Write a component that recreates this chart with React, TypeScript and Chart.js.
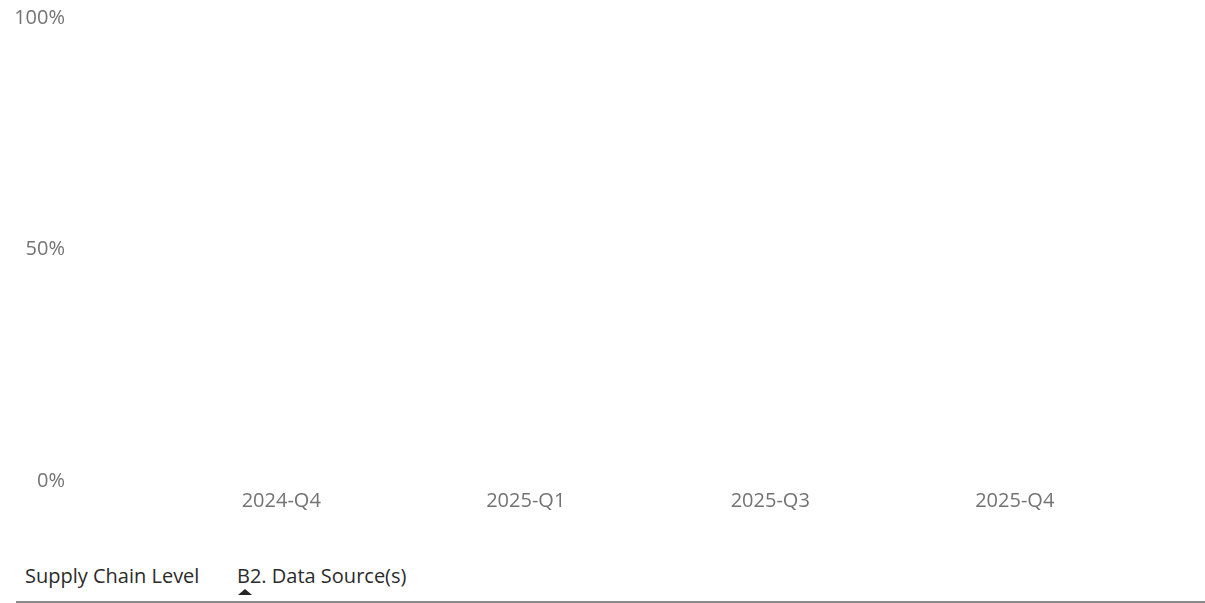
import React, { useEffect, useRef } from "react";
import { Chart, registerables } from "chart.js";

Chart.register(...registerables);

const categories = ["2024-Q4", "2025-Q1", "2025-Q3", "2025-Q4"];
const seriesValues: (number | null)[] = [null, null, null, null];
const yTickValues = [0, 0.5, 1];
const yTickLabels = ["0%", "50%", "100%"];
const footerLabels = ["Supply Chain Level", "B2. Data Source(s)"];

const FONT = "'Open Sans', 'Noto Sans', sans-serif";
const FONT_SIZE = 20;
const CANVAS_H = 530;
const PLOT_LEFT = 159;
const PLOT_BOTTOM = 481;

export default function App() {
  const ref = useRef<HTMLCanvasElement | null>(null);

  useEffect(() => {
    if (!ref.current) return;
    const chart = new Chart(ref.current, {
      type: "bar",
      data: {
        labels: categories,
        datasets: [
          {
            label: "B2. Data Source(s)",
            data: seriesValues,
            backgroundColor: "#118DFF",
          },
        ],
      },
      options: {
        responsive: false,
        animation: false,
        maintainAspectRatio: false,
        layout: { padding: { top: 18, right: 68, left: 0, bottom: 0 } },
        plugins: {
          legend: { display: false },
          tooltip: { enabled: false },
          title: { display: false },
        },
        scales: {
          x: {
            offset: true,
            grid: { display: false, drawTicks: false },
            border: { display: false },
            ticks: {
              color: "#737373",
              font: { family: FONT, size: FONT_SIZE },
              padding: 8,
              maxRotation: 0,
              autoSkip: false,
            },
            afterFit: (scale: any) => {
              scale.height = CANVAS_H - PLOT_BOTTOM;
              scale.paddingLeft = 0;
              scale.paddingRight = 0;
            },
          },
          y: {
            min: 0,
            max: 1,
            grid: { display: false, drawTicks: false },
            border: { display: false },
            afterBuildTicks: (scale: any) => {
              scale.ticks = yTickValues.map((v) => ({ value: v }));
            },
            ticks: {
              color: "#737373",
              font: { family: FONT, size: FONT_SIZE },
              padding: 94,
              callback: (v: any) => {
                const i = yTickValues.indexOf(Number(v));
                return i >= 0 ? yTickLabels[i] : "";
              },
            },
            afterFit: (scale: any) => {
              scale.width = PLOT_LEFT;
              scale.paddingTop = 0;
              scale.paddingBottom = 0;
            },
          },
        },
      },
    });
    return () => chart.destroy();
  }, []);

  const footerStyle: React.CSSProperties = {
    position: "absolute",
    top: 563,
    fontFamily: FONT,
    fontSize: FONT_SIZE,
    lineHeight: "26px",
    color: "#2b2b2b",
    whiteSpace: "nowrap",
  };

  return (
    <div style={{ position: "absolute", left: 0, top: 0, width: 1205, height: 603, background: "#fff", overflow: "hidden" }}>
      <canvas ref={ref} width={1205} height={CANVAS_H} style={{ position: "absolute", left: 0, top: 0, width: 1205, height: CANVAS_H }} />
      <div style={{ ...footerStyle, left: 25 }}>{footerLabels[0]}</div>
      <div style={{ ...footerStyle, left: 237 }}>{footerLabels[1]}</div>
      <div
        style={{
          position: "absolute",
          left: 238,
          top: 589,
          width: 0,
          height: 0,
          borderLeft: "7px solid transparent",
          borderRight: "7px solid transparent",
          borderBottom: "6px solid #252423",
        }}
      />
      <div style={{ position: "absolute", left: 16, top: 601, width: 1189, height: 2, background: "#8a8a8a" }} />
    </div>
  );
}
